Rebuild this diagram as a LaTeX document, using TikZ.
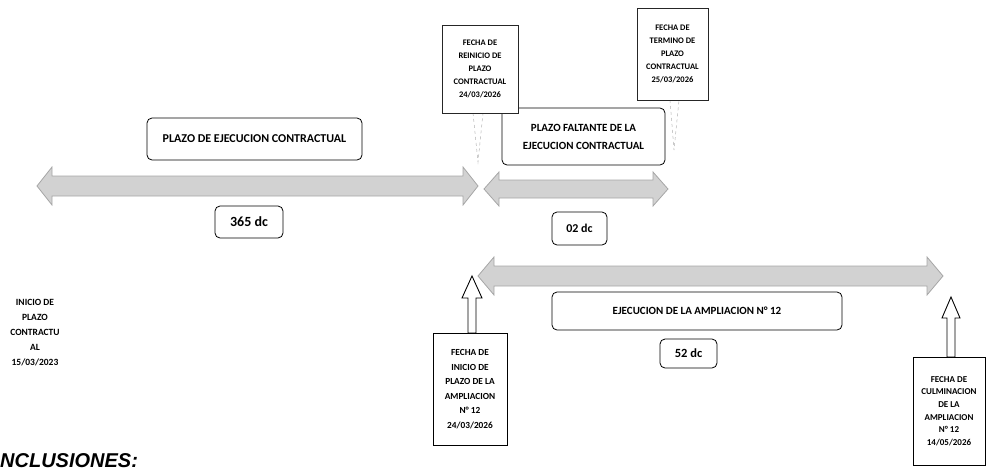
\documentclass[tikz,border=0pt]{standalone}
\usepackage{fontspec}
\setmainfont{Carlito}
\setsansfont{Liberation Sans}
\begin{document}
\begin{tikzpicture}[x=1pt,y=-1pt,
  tbox/.style={draw=black,line width=0.8pt,rounded corners=5pt,fill=white,inner sep=0pt,align=center},
  callout/.style={draw=black!85,line width=0.7pt,fill=white,inner sep=0pt,align=center},
  bigarrow/.style={fill=gray!35,draw=gray!70,line width=0.8pt},
  hollow/.style={fill=white,draw=black,line width=0.9pt},
  pointer/.style={draw=gray!60,dashed,line width=0.5pt}]
\useasboundingbox (0,0) rectangle (989,469);

% big grey double arrows
\coordinate (a1l) at (37,186);  \coordinate (a1r) at (478,186);
\coordinate (a2l) at (484,189); \coordinate (a2r) at (668,189);
\coordinate (a3l) at (478,276); \coordinate (a3r) at (943,276);
\draw[bigarrow] (37,186) -- (52,167) -- (52,176) -- (463,176) -- (463,167) -- (478,186)
  -- (463,205) -- (463,196) -- (52,196) -- (52,205) -- cycle;
\draw[bigarrow] (484,189) -- (499,172) -- (499,180) -- (653,180) -- (653,172) -- (668,189)
  -- (653,206) -- (653,198) -- (499,198) -- (499,206) -- cycle;
\draw[bigarrow] (478,276) -- (494,257) -- (494,266) -- (927,266) -- (927,257) -- (943,276)
  -- (927,295) -- (927,286) -- (494,286) -- (494,295) -- cycle;

% text boxes
\node[tbox,minimum width=215,minimum height=42,font=\bfseries\fontsize{12}{14}\selectfont] (plazo) at (254.5,139) {PLAZO DE EJECUCION CONTRACTUAL};
\node[tbox,minimum width=68,minimum height=32,font=\bfseries\fontsize{14}{16}\selectfont] (d365) at (249,222) {365 dc};
\node[tbox,minimum width=163,minimum height=57,font=\bfseries\fontsize{11}{18}\selectfont] (falt) at (583.5,136.5) {PLAZO FALTANTE DE LA\\EJECUCION CONTRACTUAL};
\node[tbox,minimum width=55,minimum height=33,font=\bfseries\fontsize{12}{14}\selectfont] (d02) at (579.5,228.5) {02 dc};
\node[tbox,minimum width=290,minimum height=38,font=\bfseries\fontsize{11}{13}\selectfont] (ejec) at (697,311) {EJECUCION DE LA AMPLIACION N° 12};
\node[tbox,minimum width=57,minimum height=29,font=\bfseries\fontsize{12.5}{14}\selectfont] (d52) at (688.5,353.5) {52 dc};

% top callouts
\coordinate (p1) at (478,162);
\coordinate (p2) at (674,150);
\draw[pointer] (473,113) -- (p1) -- (483,113);
\draw[pointer] (670,100) -- (p2) -- (679,100);
\node[callout,minimum width=76,minimum height=88,font=\bfseries\fontsize{8.5}{13}\selectfont] (c1) at (480,69) {FECHA DE\\REINICIO DE\\PLAZO\\CONTRACTUAL\\24/03/2026};
\node[callout,minimum width=71,minimum height=92,font=\bfseries\fontsize{8.5}{13}\selectfont] (c2) at (672.5,54) {FECHA DE\\TERMINO DE\\PLAZO\\CONTRACTUAL\\25/03/2026};

% bottom callouts with hollow arrows
\draw[hollow] (472,276) -- (482,298) -- (476,298) -- (476,333) -- (468,333) -- (468,298) -- (462,298) -- cycle;
\draw[hollow] (951,297) -- (960,318) -- (955,318) -- (955,357) -- (947,357) -- (947,318) -- (942,318) -- cycle;
\node[callout,draw=black,line width=0.9pt,minimum width=74,minimum height=112,font=\bfseries\fontsize{9.3}{14.5}\selectfont] (c3) at (470,389) {FECHA DE\\INICIO DE\\PLAZO DE LA\\AMPLIACION\\N° 12\\24/03/2026};
\node[callout,draw=black,line width=0.9pt,minimum width=72,minimum height=108,font=\bfseries\fontsize{9}{12.7}\selectfont] (c4) at (949,411) {FECHA DE\\CULMINACION\\DE LA\\AMPLIACION\\N° 12\\14/05/2026};

% start label
\node[align=center,inner sep=0pt,font=\bfseries\fontsize{9.5}{15}\selectfont] (inicio) at (35,333) {INICIO DE\\PLAZO\\CONTRACTU\\AL\\15/03/2023};

% bottom heading
\node[anchor=base west,inner sep=0pt,font=\sffamily\bfseries\itshape\fontsize{20}{20}\selectfont] (concl) at (0,467) {NCLUSIONES:};
\end{tikzpicture}
\end{document}
